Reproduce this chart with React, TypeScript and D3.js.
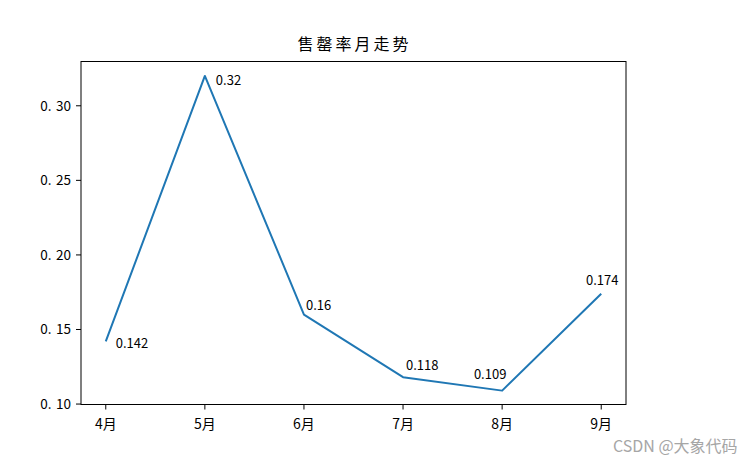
import React from "react";
import * as d3 from "d3";

const months: string[] = ["4月", "5月", "6月", "7月", "8月", "9月"];
const sellThrough: number[] = [0.142, 0.32, 0.16, 0.118, 0.109, 0.174];
const yTicks: number[] = [0.1, 0.15, 0.2, 0.25, 0.3];
const title = "售罄率月走势";

const W = 755;
const H = 463;
const M = { left: 81, right: 626, top: 61.5, bottom: 404.5 };
const FONT = "'Noto Sans CJK SC', 'Noto Sans', sans-serif";

// label placement offsets (dx, dy, anchor) — styling, not data
const labelPlacement: [number, number, string][] = [
  [10, 7, "start"],
  [11, 9, "start"],
  [2, -5, "start"],
  [3, -7, "start"],
  [-12, -12, "middle"],
  [1, -9, "middle"],
];

export default function App() {
  const x = d3
    .scalePoint<string>()
    .domain(months)
    .range([M.left, M.right])
    .padding(0.25);
  const y = d3.scaleLinear().domain([0.0997, 0.3297]).range([M.bottom, M.top]);

  const line = d3
    .line<number>()
    .x((_, i) => x(months[i]) as number)
    .y((d) => y(d));

  const fmtY = (v: number) => d3.format(".2f")(v).replace(".", ".\u2004");

  return (
    <svg
      width={W}
      height={H}
      style={{ position: "absolute", left: 0, top: 0, background: "#fff" }}
      fontFamily={FONT}
    >
      <rect x={0} y={0} width={W} height={H} fill="#fff" />
      <text
        x={(M.left + M.right) / 2 + 1}
        y={50}
        textAnchor="middle"
        fontSize={16}
        letterSpacing={3}
        fill="#000"
      >
        {title}
      </text>

      {/* y ticks */}
      {yTicks.map((t) => (
        <g key={t} transform={`translate(0,${y(t)})`}>
          <line x1={M.left - 5} x2={M.left} stroke="#000" strokeWidth={1} />
          <text
            x={M.left - 10}
            dy="0.35em"
            textAnchor="end"
            fontSize={13.5}
            fill="#000"
            style={{ whiteSpace: "pre" }}
          >
            {fmtY(t)}
          </text>
        </g>
      ))}

      {/* x ticks */}
      {months.map((m) => (
        <g key={m} transform={`translate(${x(m)},0)`}>
          <line y1={M.bottom} y2={M.bottom + 5} stroke="#000" strokeWidth={1} />
          <text y={M.bottom + 24.5} textAnchor="middle" fontSize={14} fill="#000">
            {m}
          </text>
        </g>
      ))}

      <path
        d={line(sellThrough) || ""}
        fill="none"
        stroke="#1f77b4"
        strokeWidth={2}
        strokeLinejoin="round"
      />

      {sellThrough.map((v, i) => {
        const [dx, dy, anchor] = labelPlacement[i];
        return (
          <text
            key={i}
            x={(x(months[i]) as number) + dx}
            y={y(v) + dy}
            textAnchor={anchor as any}
            fontSize={13}
            fill="#000"
          >
            {String(v)}
          </text>
        );
      })}

      <rect
        x={M.left}
        y={M.top}
        width={M.right - M.left}
        height={M.bottom - M.top}
        fill="none"
        stroke="#000"
        strokeWidth={1}
      />

      <text x={613} y={451.5} fontSize={16} fill="#a6a6a6">
        CSDN @大象代码
      </text>
    </svg>
  );
}
